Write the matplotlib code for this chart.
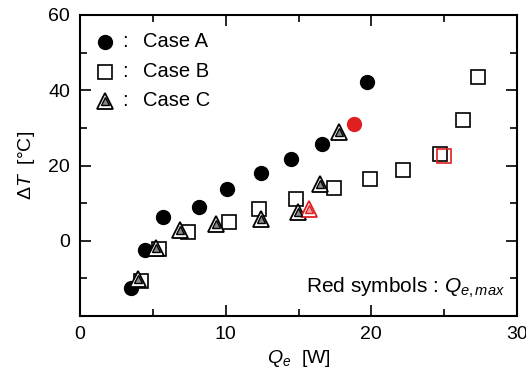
import numpy as np
import matplotlib
matplotlib.use('Agg')
import matplotlib.pyplot as plt
from matplotlib.ticker import MultipleLocator

plt.rcParams['font.family'] = ['Liberation Sans', 'DejaVu Sans']
plt.rcParams['mathtext.fontset'] = 'custom'
plt.rcParams['mathtext.it'] = 'Liberation Sans:italic'
plt.rcParams['mathtext.rm'] = 'Liberation Sans'

# Case A (filled circles), red point = Qe,max
a_x = [3.5, 4.45, 5.7, 8.2, 10.1, 12.4, 14.5, 16.6, 19.7]
a_y = [-12.5, -2.4, 6.4, 9.0, 13.8, 18.0, 21.7, 25.7, 42.3]
a_max = (18.8, 31.0)

# Case B (open squares)
b_x = [4.2, 5.4, 7.4, 10.2, 12.3, 14.8, 17.45, 19.9, 22.2, 24.7, 26.3, 27.3]
b_y = [-10.6, -2.1, 2.4, 5.0, 8.5, 11.1, 14.0, 16.4, 18.9, 23.0, 32.0, 43.6]
b_max = (25.0, 22.4)

# Case C (triangles)
c_x = [4.0, 5.25, 6.9, 9.35, 12.4, 14.95, 16.5, 17.8]
c_y = [-10.1, -1.8, 2.9, 4.5, 5.8, 7.7, 15.1, 29.0]
c_max = (15.75, 8.4)

red = '#e02020'

fig = plt.figure(figsize=(5.26, 3.84), dpi=100)
ax = fig.add_axes([0.152, 0.177, 0.831, 0.784])


def tri(ax, x, y, color):
    ax.plot(x, y, '^', ms=11, mfc='white', mec=color, mew=1.3, ls='none', zorder=3)
    ax.plot(x, y, '^', ms=6, mfc='#888888' if color == 'k' else '#f0a0a0', mec=color, mew=1.0, ls='none', zorder=4)


ax.plot(a_x, a_y, 'o', ms=10, color='k', ls='none', zorder=3)
ax.plot(*a_max, 'o', ms=10, color=red, zorder=3)
ax.plot(b_x, b_y, 's', ms=10, mfc='none', mec='k', mew=1.2, ls='none', zorder=3)
ax.plot(*b_max, 's', ms=10, mfc='none', mec=red, mew=1.2, zorder=3)
tri(ax, c_x, c_y, 'k')
tri(ax, [c_max[0]], [c_max[1]], red)

ax.set_xlim(0, 30)
ax.set_ylim(-20, 60)
ax.set_xticks([0, 10, 20, 30])
ax.set_yticks([0, 20, 40, 60])
ax.xaxis.set_minor_locator(MultipleLocator(5))
ax.yaxis.set_minor_locator(MultipleLocator(10))
ax.tick_params(which='both', direction='in', top=True, right=True, labelsize=14, width=1.2)
ax.tick_params(which='major', length=8, pad=7)
ax.tick_params(which='minor', length=5)
for s in ax.spines.values():
    s.set_linewidth(1.5)

ax.set_xlabel(r'$Q_e$  [W]', fontsize=14, labelpad=4)
ax.set_ylabel(r'$\Delta T$  [°C]', fontsize=14, labelpad=8)

# legend drawn by hand: marker  :  text
leg_x = 1.7
leg_y = [52.9, 44.9, 37.2]
ax.plot(leg_x, leg_y[0], 'o', ms=10, color='k')
ax.plot(leg_x, leg_y[1], 's', ms=10, mfc='none', mec='k', mew=1.2)
tri(ax, [leg_x], [leg_y[2]], 'k')
for yy, lab in zip(leg_y, ['Case A', 'Case B', 'Case C']):
    ax.text(3.1, yy, ':', fontsize=14.5, va='center', ha='center')
    ax.text(4.3, yy, lab, fontsize=14.5, va='center')

ax.text(29.2, -12.5, r'Red symbols : $Q_{e,max}$', fontsize=15, ha='right', va='center')

fig.savefig('out.png', dpi=100)
